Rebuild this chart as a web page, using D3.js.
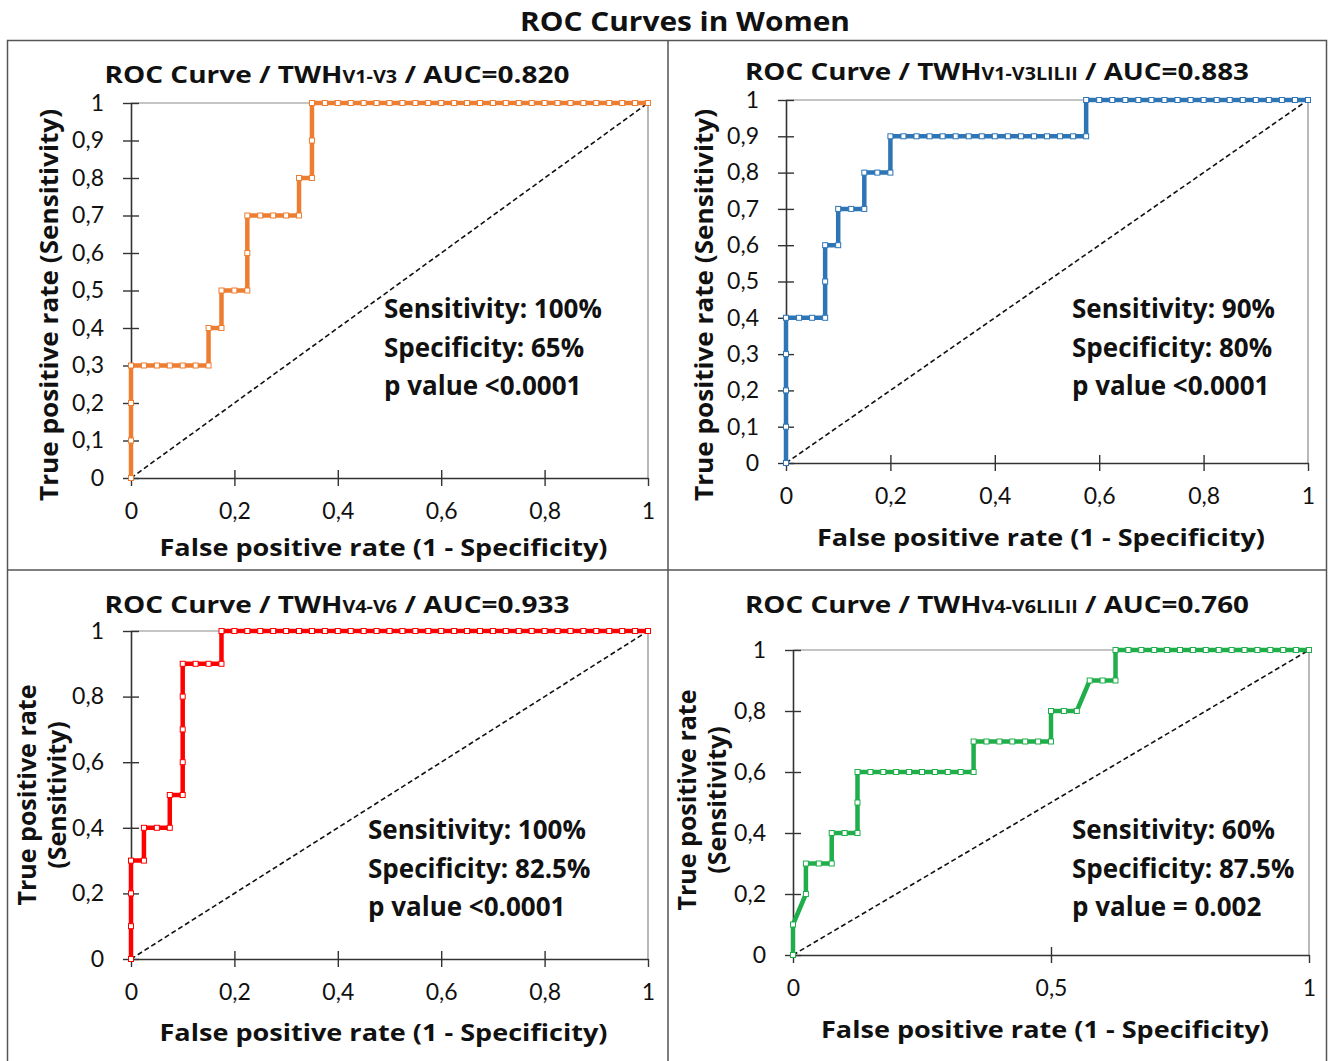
<!DOCTYPE html>
<html lang="en">
  <head>
    <meta charset="UTF-8" />
    <title>ROC Curves in Women</title>
    <style>
      body { margin: 0; background: #fff; }
      svg text { font-family: "Open Sans", "Noto Sans", sans-serif; fill: #111; }
    </style>
  </head>
  <body>
    <svg id="chart" width="1328" height="1061"></svg>

    <script src="https://d3js.org/d3.v7.min.js"></script>
    <script>
      // ---- data ----
      const fprV1V3 = [0, 0, 0, 0, 0.025, 0.05, 0.075, 0.1, 0.125, 0.15, 0.15, 0.175, 0.175, 0.2, 0.225, 0.225, 0.225, 0.25, 0.275, 0.3, 0.325, 0.325, 0.35, 0.35, 0.35,
        0.375, 0.4, 0.425, 0.45, 0.475, 0.5, 0.525, 0.55, 0.575, 0.6, 0.625, 0.65, 0.675, 0.7, 0.725, 0.75, 0.775, 0.8, 0.825, 0.85, 0.875, 0.9, 0.925, 0.95, 0.975, 1];
      const tprV1V3 = [0, 0.1, 0.2, 0.3, 0.3, 0.3, 0.3, 0.3, 0.3, 0.3, 0.4, 0.4, 0.5, 0.5, 0.5, 0.6, 0.7, 0.7, 0.7, 0.7, 0.7, 0.8, 0.8, 0.9, 1,
        1, 1, 1, 1, 1, 1, 1, 1, 1, 1, 1, 1, 1, 1, 1, 1, 1, 1, 1, 1, 1, 1, 1, 1, 1, 1];

      const fprV1V3L = [0, 0, 0, 0, 0, 0.025, 0.05, 0.075, 0.075, 0.075, 0.1, 0.1, 0.125, 0.15, 0.15, 0.175, 0.2, 0.2,
        0.225, 0.25, 0.275, 0.3, 0.325, 0.35, 0.375, 0.4, 0.425, 0.45, 0.475, 0.5, 0.525, 0.55, 0.575, 0.575,
        0.6, 0.625, 0.65, 0.675, 0.7, 0.725, 0.75, 0.775, 0.8, 0.825, 0.85, 0.875, 0.9, 0.925, 0.95, 0.975, 1];
      const tprV1V3L = [0, 0.1, 0.2, 0.3, 0.4, 0.4, 0.4, 0.4, 0.5, 0.6, 0.6, 0.7, 0.7, 0.7, 0.8, 0.8, 0.8, 0.9,
        0.9, 0.9, 0.9, 0.9, 0.9, 0.9, 0.9, 0.9, 0.9, 0.9, 0.9, 0.9, 0.9, 0.9, 0.9, 1,
        1, 1, 1, 1, 1, 1, 1, 1, 1, 1, 1, 1, 1, 1, 1, 1, 1];

      const fprV4V6 = [0, 0, 0, 0, 0.025, 0.025, 0.05, 0.075, 0.075, 0.1, 0.1, 0.1, 0.1, 0.1, 0.125, 0.15, 0.175, 0.175,
        0.2, 0.225, 0.25, 0.275, 0.3, 0.325, 0.35, 0.375, 0.4, 0.425, 0.45, 0.475, 0.5, 0.525, 0.55, 0.575, 0.6, 0.625,
        0.65, 0.675, 0.7, 0.725, 0.75, 0.775, 0.8, 0.825, 0.85, 0.875, 0.9, 0.925, 0.95, 0.975, 1];
      const tprV4V6 = [0, 0.1, 0.2, 0.3, 0.3, 0.4, 0.4, 0.4, 0.5, 0.5, 0.6, 0.7, 0.8, 0.9, 0.9, 0.9, 0.9, 1,
        1, 1, 1, 1, 1, 1, 1, 1, 1, 1, 1, 1, 1, 1, 1, 1, 1, 1,
        1, 1, 1, 1, 1, 1, 1, 1, 1, 1, 1, 1, 1, 1, 1];

      const fprV4V6L = [0, 0, 0.025, 0.025, 0.05, 0.075, 0.075, 0.1, 0.125, 0.125, 0.125,
        0.15, 0.175, 0.2, 0.225, 0.25, 0.275, 0.3, 0.325, 0.35, 0.35,
        0.375, 0.4, 0.425, 0.45, 0.475, 0.5, 0.5, 0.525, 0.55, 0.575, 0.6, 0.625, 0.625,
        0.65, 0.675, 0.7, 0.725, 0.75, 0.775, 0.8, 0.825, 0.85, 0.875, 0.9, 0.925, 0.95, 0.975, 1];
      const tprV4V6L = [0, 0.1, 0.2, 0.3, 0.3, 0.3, 0.4, 0.4, 0.4, 0.5, 0.6,
        0.6, 0.6, 0.6, 0.6, 0.6, 0.6, 0.6, 0.6, 0.6, 0.7,
        0.7, 0.7, 0.7, 0.7, 0.7, 0.7, 0.8, 0.8, 0.8, 0.9, 0.9, 0.9, 1,
        1, 1, 1, 1, 1, 1, 1, 1, 1, 1, 1, 1, 1, 1, 1];

      const subLabels = ["V1-V3", "V1-V3LILII", "V4-V6", "V4-V6LILII"];
      const aucValues = ["0.820", "0.883", "0.933", "0.760"];
      const sensitivity = ["100%", "90%", "100%", "60%"];
      const specificity = ["65%", "80%", "82.5%", "87.5%"];
      const pValues = ["<0.0001", "<0.0001", "<0.0001", "= 0.002"];
      const colors = ["#ed7d31", "#2e75b6", "#ff0000", "#1fae4a"];

      const yTicksFine = [0, 0.1, 0.2, 0.3, 0.4, 0.5, 0.6, 0.7, 0.8, 0.9, 1];
      const yTicksCoarse = [0, 0.2, 0.4, 0.6, 0.8, 1];
      const xTicksFifth = [0, 0.2, 0.4, 0.6, 0.8, 1];
      const xTicksHalf = [0, 0.5, 1];

      // ---- layout of each panel (pixel boxes of the plot area) ----
      const panels = [
        { fpr: fprV1V3, tpr: tprV1V3, x0: 131, x1: 648, y0: 478, y1: 103, yTicks: yTicksFine, xTicks: xTicksFifth,
          titleX: 337, titleY: 83, noteX: 384, noteY: 318, xTitleY: 556, yTitleX: 50, yTitleLines: 1, yTitleY: 305 },
        { fpr: fprV1V3L, tpr: tprV1V3L, x0: 786, x1: 1308, y0: 463, y1: 100, yTicks: yTicksFine, xTicks: xTicksFifth,
          titleX: 997, titleY: 80, noteX: 1072, noteY: 318, xTitleY: 546, yTitleX: 705, yTitleLines: 1, yTitleY: 305 },
        { fpr: fprV4V6, tpr: tprV4V6, x0: 131, x1: 648, y0: 959, y1: 631, yTicks: yTicksCoarse, xTicks: xTicksFifth,
          titleX: 337, titleY: 613, noteX: 368, noteY: 839, xTitleY: 1041, yTitleX: 28, yTitleLines: 2, yTitleY: 795 },
        { fpr: fprV4V6L, tpr: tprV4V6L, x0: 793, x1: 1309, y0: 955, y1: 650, yTicks: yTicksCoarse, xTicks: xTicksHalf,
          titleX: 997, titleY: 613, noteX: 1072, noteY: 839, xTitleY: 1038, yTitleX: 688, yTitleLines: 2, yTitleY: 800 }
      ];

      const svg = d3.select("#chart");
      const fmt = (d) => (d === 0 || d === 1 ? String(d) : d3.format(".1f")(d).replace(".", ","));

      // main title
      svg.append("text")
        .attr("x", 685).attr("y", 31)
        .attr("text-anchor", "middle")
        .attr("font-size", 27).attr("font-weight", 700)
        .attr("textLength", 330).attr("lengthAdjust", "spacingAndGlyphs")
        .text("ROC Curves in Women");

      // grid frame
      const frame = svg.append("g").attr("fill", "none").attr("stroke", "#555").attr("stroke-width", 1.5);
      frame.append("rect").attr("x", 7.5).attr("y", 40.5).attr("width", 1319).attr("height", 1030);
      frame.append("line").attr("x1", 668).attr("x2", 668).attr("y1", 40).attr("y2", 1061);
      frame.append("line").attr("x1", 7).attr("x2", 1327).attr("y1", 570).attr("y2", 570);

      panels.forEach((p, i) => {
        const x = d3.scaleLinear().domain([0, 1]).range([p.x0, p.x1]);
        const y = d3.scaleLinear().domain([0, 1]).range([p.y0, p.y1]);
        const g = svg.append("g");

        // top and right border of plot area
        g.append("path")
          .attr("d", `M${p.x0},${p.y1}H${p.x1}V${p.y0}`)
          .attr("fill", "none").attr("stroke", "#8a8a8a").attr("stroke-width", 1.2);

        // axes with ticks crossing the line
        const yAxis = g.append("g").attr("transform", `translate(${p.x0},0)`)
          .call(d3.axisLeft(y).tickValues(p.yTicks).tickFormat(fmt).tickSize(8).tickSizeOuter(0).tickPadding(19));
        yAxis.selectAll(".tick line").attr("x2", 8).attr("x1", -8);
        const xAxis = g.append("g").attr("transform", `translate(0,${p.y0})`)
          .call(d3.axisBottom(x).tickValues(p.xTicks).tickFormat(fmt).tickSize(8).tickSizeOuter(0).tickPadding(17));
        xAxis.selectAll(".tick line").attr("y1", -8).attr("y2", 8);
        [yAxis, xAxis].forEach((a) => {
          a.select(".domain").attr("stroke", "#333").attr("stroke-width", 1.6);
          a.selectAll(".tick line").attr("stroke", "#333").attr("stroke-width", 1.4);
          a.selectAll("text").attr("font-size", 23).attr("fill", "#111")
            .style("font-family", "Lato, 'Noto Sans', sans-serif");
        });
        xAxis.selectAll(".tick").filter((d) => d === 1).select("line").attr("y1", 0);

        // chance diagonal
        g.append("line")
          .attr("x1", x(0)).attr("y1", y(0)).attr("x2", x(1)).attr("y2", y(1))
          .attr("stroke", "#111").attr("stroke-width", 1.6).attr("stroke-dasharray", "5,3");

        // ROC curve
        const pts = p.fpr.map((f, k) => [f, p.tpr[k]]);
        const line = d3.line().x((d) => x(d[0])).y((d) => y(d[1]));
        g.append("path")
          .datum(pts)
          .attr("d", line)
          .attr("fill", "none")
          .attr("stroke", colors[i])
          .attr("stroke-width", 4.5)
          .attr("stroke-linejoin", "miter");
        g.selectAll("rect.pt")
          .data(pts)
          .join("rect")
          .attr("class", "pt")
          .attr("x", (d) => x(d[0]) - 2.5).attr("y", (d) => y(d[1]) - 2.5)
          .attr("width", 5).attr("height", 5)
          .attr("fill", "#fff").attr("stroke", colors[i]).attr("stroke-width", 1);

        // panel title
        const t = g.append("text")
          .attr("x", p.titleX).attr("y", p.titleY)
          .attr("text-anchor", "middle")
          .attr("font-size", 24).attr("font-weight", 700)
          .attr("textLength", i % 2 ? 504 : 465).attr("lengthAdjust", "spacingAndGlyphs");
        t.append("tspan").text("ROC Curve / TWH");
        t.append("tspan").attr("font-size", 17).text(subLabels[i]);
        t.append("tspan").text(` / AUC=${aucValues[i]}`);

        // stats annotation
        const notes = [`Sensitivity: ${sensitivity[i]}`, `Specificity: ${specificity[i]}`, `p value ${pValues[i]}`];
        g.selectAll("text.note")
          .data(notes)
          .join("text")
          .attr("class", "note")
          .attr("x", p.noteX)
          .attr("y", (d, k) => p.noteY + k * 38.5)
          .attr("font-size", 26).attr("font-weight", 700)
          .text((d) => d);

        // axis titles
        g.append("text")
          .attr("x", (p.x0 + p.x1) / 2 - 6).attr("y", p.xTitleY)
          .attr("text-anchor", "middle")
          .attr("font-size", 24).attr("font-weight", 700)
          .attr("textLength", 448).attr("lengthAdjust", "spacingAndGlyphs")
          .text("False positive rate (1 - Specificity)");
        const yLines = p.yTitleLines === 1 ? ["True positive rate (Sensitivity)"] : ["True positive rate", "(Sensitivity)"];
        yLines.forEach((s, k) => {
          const yt = g.append("text")
            .attr("transform", `translate(${p.yTitleX + k * 30 + 8},${p.yTitleY}) rotate(-90)`)
            .attr("text-anchor", "middle")
            .attr("font-size", 25).attr("font-weight", 700)
            .text(s);
          if (p.yTitleLines === 1) yt.attr("textLength", 392).attr("lengthAdjust", "spacingAndGlyphs");
        });
      });
    </script>
  </body>
</html>
